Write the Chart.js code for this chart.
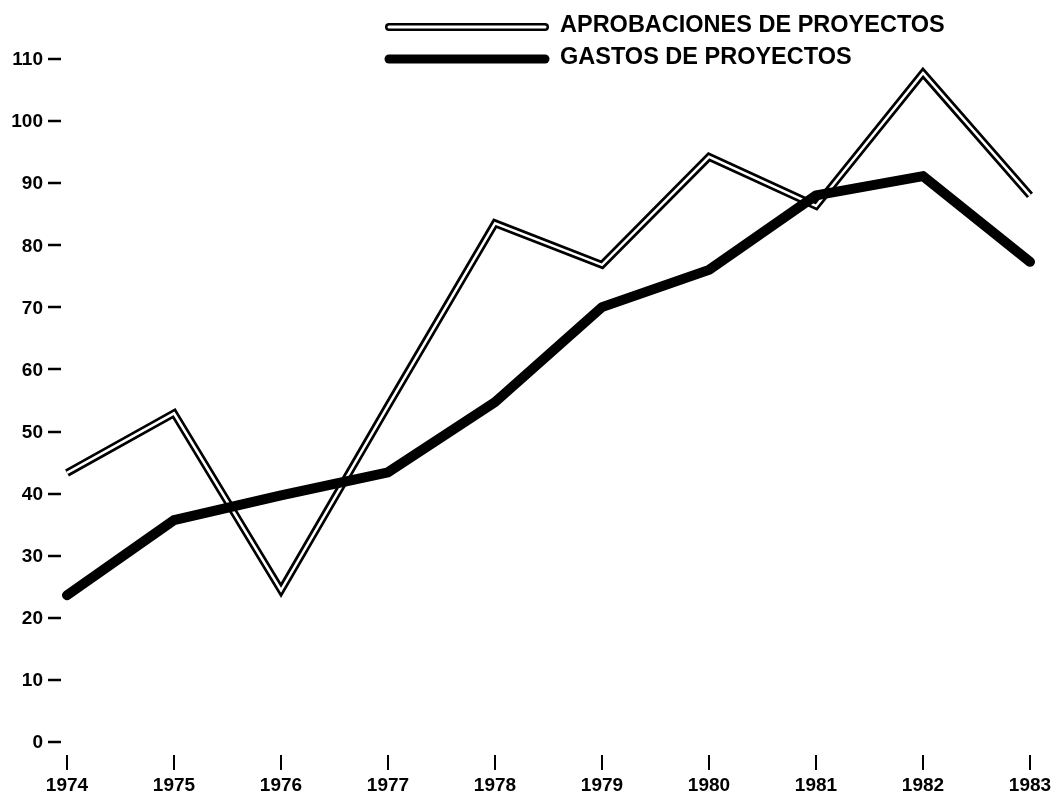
<!DOCTYPE html>
<html>
<head>
<meta charset="utf-8">
<script src="https://cdn.jsdelivr.net/npm/chart.js@4"></script>
<style>
    html, body { margin: 0; padding: 0; background: #fff; overflow: hidden; }
    #chart { display: block; }
</style>
</head>
<body>
<canvas id="chart" width="1057" height="794"></canvas>
<script>
/* ============================================================
   DATA
============================================================ */

const years = ["1974", "1975", "1976", "1977", "1978", "1979", "1980", "1981", "1982", "1983"];

const aprobaciones = [43.5, 53.1, 24.6, 54.3, 83.7, 77.0, 94.4, 86.5, 107.9, 88.2];
const gastos       = [23.8, 35.9, 39.9, 43.6, 54.9, 70.2, 76.2, 88.2, 91.3, 77.5];

const legendLabels = ["APROBACIONES DE PROYECTOS", "GASTOS DE PROYECTOS"];

const yMin = 0;
const yMax = 110;
const yStep = 10;

const FONT = "'Liberation Sans', Arial, sans-serif";


/* ============================================================
   PLUGINS
============================================================ */

// small dashes next to the y labels, short vertical marks above the years
const tickMarks = {
    id: "tickMarks",
    afterDraw(chart) {
        const ctx = chart.ctx;
        const x = chart.scales.x;
        const y = chart.scales.y;

        ctx.save();
        ctx.strokeStyle = "#000";
        ctx.lineCap = "butt";

        ctx.lineWidth = 2.5;
        y.ticks.forEach((t, i) => {
            const py = Math.round(y.getPixelForTick(i)) - 1;
            ctx.beginPath();
            ctx.moveTo(48, py);
            ctx.lineTo(61, py);
            ctx.stroke();
        });

        ctx.lineWidth = 2;
        x.ticks.forEach((t, i) => {
            const px = Math.round(x.getPixelForTick(i));
            ctx.beginPath();
            ctx.moveTo(px, y.bottom + 12);
            ctx.lineTo(px, y.bottom + 27);
            ctx.stroke();
        });

        ctx.restore();
    }
};

const sideLegend = {
    id: "sideLegend",
    afterDraw(chart) {
        const ctx = chart.ctx;
        ctx.save();
        ctx.lineCap = "round";

        // double line sample
        ctx.strokeStyle = "#000";
        ctx.lineWidth = 8;
        ctx.beginPath(); ctx.moveTo(389, 27); ctx.lineTo(545, 27); ctx.stroke();
        ctx.strokeStyle = "#fff";
        ctx.lineWidth = 3;
        ctx.beginPath(); ctx.moveTo(389, 27); ctx.lineTo(545, 27); ctx.stroke();

        // thick line sample
        ctx.strokeStyle = "#000";
        ctx.lineWidth = 9;
        ctx.beginPath(); ctx.moveTo(389, 59); ctx.lineTo(545, 59); ctx.stroke();

        ctx.fillStyle = "#000";
        ctx.font = "bold 23.5px " + FONT;
        ctx.textBaseline = "middle";
        ctx.textAlign = "left";
        ctx.fillText(legendLabels[0], 560, 26);
        ctx.fillText(legendLabels[1], 560, 58);

        ctx.restore();
    }
};


/* ============================================================
   CHART
============================================================ */

new Chart(document.getElementById("chart"), {
    type: "line",
    data: {
        labels: years,
        datasets: [
            {
                label: legendLabels[1],
                data: gastos,
                borderColor: "#000",
                borderWidth: 10,
                borderJoinStyle: "round",
                borderCapStyle: "round",
                order: 0
            },
            {
                label: legendLabels[0] + " (inner)",
                data: aprobaciones,
                borderColor: "#fff",
                borderWidth: 2.5,
                borderJoinStyle: "miter",
                order: 1
            },
            {
                label: legendLabels[0],
                data: aprobaciones,
                borderColor: "#000",
                borderWidth: 8,
                borderJoinStyle: "miter",
                order: 2
            }
        ]
    },
    options: {
        responsive: false,
        animation: false,
        elements: { point: { radius: 0, hoverRadius: 0 }, line: { tension: 0 } },
        layout: { padding: { top: 60, right: 27, bottom: 0, left: 0 } },
        plugins: {
            legend: { display: false },
            tooltip: { enabled: false }
        },
        scales: {
            x: {
                type: "category",
                offset: false,
                // tick marks are drawn by the plugin; tickLength only spaces the labels
                grid: { display: false, drawTicks: true, tickLength: 31 },
                border: { display: false },
                ticks: {
                    color: "#000",
                    font: { family: FONT, size: 19, weight: "bold" },
                    padding: 0,
                    maxRotation: 0,
                    autoSkip: false
                },
                afterFit(scale) { scale.height = 51; }
            },
            y: {
                min: yMin,
                max: yMax,
                grid: { display: false, drawTicks: false },
                border: { display: false },
                ticks: {
                    stepSize: yStep,
                    color: "#000",
                    font: { family: FONT, size: 19, weight: "bold" },
                    padding: 24
                },
                afterFit(scale) { scale.width = 67; }
            }
        }
    },
    plugins: [tickMarks, sideLegend]
});
</script>
</body>
</html>
